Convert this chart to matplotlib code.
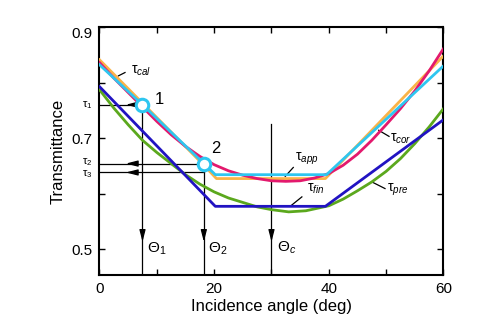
import matplotlib
matplotlib.use("Agg")
import matplotlib.pyplot as plt

plt.rcParams['font.family'] = ['Liberation Sans', 'DejaVu Sans']
plt.rcParams['mathtext.fontset'] = 'custom'
plt.rcParams['mathtext.rm'] = 'Liberation Sans'
plt.rcParams['mathtext.it'] = 'Liberation Sans:italic'

# tau_cor (smooth, magenta)
cor_x = [0, 2.5, 5, 7.5, 10, 12.5, 15, 17.5, 20, 22.5, 25, 27.5, 30, 32.5, 35, 37.5, 40,
         42.5, 45, 47.5, 50, 52.5, 55, 57.5, 60]
cor_y = [0.836, 0.808, 0.782, 0.756, 0.730, 0.706, 0.685, 0.667, 0.652, 0.641, 0.633, 0.627,
         0.623, 0.622, 0.623, 0.628, 0.636, 0.651, 0.671, 0.696, 0.724, 0.753, 0.785, 0.821,
         0.861]

# tau_pre (smooth, green)
pre_x = [0, 2.5, 5, 7.5, 10, 12.5, 15, 17.5, 20, 22.5, 25, 27.5, 30, 33, 36, 40,
         42.5, 45, 47.5, 50, 52.5, 55, 57.5, 60]
pre_y = [0.787, 0.754, 0.724, 0.696, 0.674, 0.654, 0.634, 0.617, 0.603, 0.592, 0.584, 0.576,
         0.571, 0.567, 0.569, 0.578, 0.590, 0.605, 0.621, 0.640, 0.663, 0.690, 0.720, 0.753]

# piecewise approximations
cal_x = [0, 7.5, 18.2, 20.4, 39.4, 60]
cal_y = [0.841, 0.763, 0.651, 0.627, 0.627, 0.848]

app_x = [0, 7.5, 18.2, 20.2, 39.6, 60]
app_y = [0.832, 0.760, 0.654, 0.634, 0.634, 0.830]

fin_x = [0, 20.2, 39.4, 60]
fin_y = [0.7926, 0.577, 0.577, 0.733]

theta1, tau1 = 7.5, 0.760
theta2, tau2 = 18.2, 0.654
tau3 = 0.638
theta_c, theta_c_top = 30.0, 0.726

c_orange = '#FAB347'
c_magenta = '#E3196D'
c_cyan = '#2EC6F0'
c_blue = '#2113C2'
c_green = '#5BA81D'

fig = plt.figure(figsize=(5.01, 3.23), dpi=100)
ax = fig.add_axes([0.1986, 0.1486, 0.6866, 0.7678])

lw = 2.0
ax.plot(pre_x, pre_y, color=c_green, lw=lw, zorder=3)
ax.plot(fin_x, fin_y, color=c_blue, lw=lw, zorder=3)
ax.plot(cal_x, cal_y, color=c_orange, lw=lw, zorder=3)
ax.plot(cor_x, cor_y, color=c_magenta, lw=lw, zorder=3)
ax.plot(app_x, app_y, color=c_cyan, lw=lw, zorder=4)

# guide lines (tau levels and theta angles)
thin = 0.9
ax.plot([0, theta1], [tau1, tau1], color='k', lw=thin, zorder=2)
ax.plot([0, theta2], [tau2, tau2], color='k', lw=thin, zorder=2)
ax.plot([0, theta2], [tau3, tau3], color='k', lw=thin, zorder=2)
ax.plot([theta1, theta1], [0.4, tau1], color='k', lw=thin, zorder=2)
ax.plot([theta2, theta2], [0.4, tau2], color='k', lw=thin, zorder=2)
ax.plot([theta_c, theta_c], [0.4, theta_c_top], color='k', lw=thin, zorder=2)

arrow = dict(arrowstyle='-|>,head_length=0.7,head_width=0.18', color='k', lw=thin,
             shrinkA=0, shrinkB=0)
for t in [tau1, tau2, tau3]:
    ax.annotate('', xy=(4.6, t), xytext=(6.5, t), arrowprops=arrow, zorder=2)
for th in [theta1, theta2, theta_c]:
    ax.annotate('', xy=(th, 0.513), xytext=(th, 0.535), arrowprops=arrow, zorder=2)

ax.plot([theta1, theta2], [tau1, tau2], 'o', ms=9, mfc='white', mec=c_cyan, mew=2.2,
        ls='none', zorder=5)
ax.text(9.7, 0.769, '1', fontsize=12, va='center', ha='left')
ax.text(19.4, 0.681, '2', fontsize=12, va='center', ha='left')

ax.text(8.3, 0.500, r'$\Theta_1$', fontsize=11, va='center', ha='left')
ax.text(18.9, 0.500, r'$\Theta_2$', fontsize=11, va='center', ha='left')
ax.text(30.9, 0.502, r'$\Theta_c$', fontsize=11, va='center', ha='left')

# tau labels left of the axis (small nudge keeps tau2 / tau3 apart)
for t, s, dy in [(tau1, '1', 0.0), (tau2, '2', 0.003), (tau3, '3', -0.003)]:
    ax.text(-1.3, t + dy, r'$\mathrm{\tau}_{\mathrm{%s}}$' % s, fontsize=8, va='center',
            ha='right', clip_on=False)

# curve labels with leader lines
labels = [
    (r'$\mathrm{\tau}_{cal}$', (3.3, 0.812), (4.45, 0.818), (5.5, 0.821)),
    (r'$\mathrm{\tau}_{app}$', (32.4, 0.631), (33.8, 0.647), (34.1, 0.663)),
    (r'$\mathrm{\tau}_{fin}$', (33.5, 0.579), (35.3, 0.594), (36.2, 0.608)),
    (r'$\mathrm{\tau}_{cor}$', (48.7, 0.714), (50.5, 0.703), (50.7, 0.698)),
    (r'$\mathrm{\tau}_{pre}$', (47.5, 0.621), (49.8, 0.609), (50.1, 0.606)),
]
for txt, p0, p1, pt in labels:
    ax.plot([p0[0], p1[0]], [p0[1], p1[1]], color='k', lw=thin, zorder=2)
    ax.text(pt[0], pt[1], txt, fontsize=10, va='center', ha='left')

ax.set_xlim(0, 60)
ax.set_ylim(0.4533, 0.9)
ax.set_xticks([0, 20, 40, 60])
ax.set_xticks([10, 30, 50], minor=True)
ax.set_yticks([0.5, 0.7, 0.9])
ax.set_yticklabels(['0.5', '0.7', '0.9'])
ax.set_yticks([0.6, 0.8], minor=True)
ax.get_yticklabels()[2].set_va('top')
ax.tick_params(which='both', direction='in', top=True, right=True, length=4,
               width=1.0, labelsize=11, pad=5)
for sp in ax.spines.values():
    sp.set_linewidth(1.5)

ax.set_xlabel('Incidence angle (deg)', fontsize=12, labelpad=2)
ax.set_ylabel('Transmittance', fontsize=12, labelpad=4)

fig.savefig('out.png', dpi=100)
